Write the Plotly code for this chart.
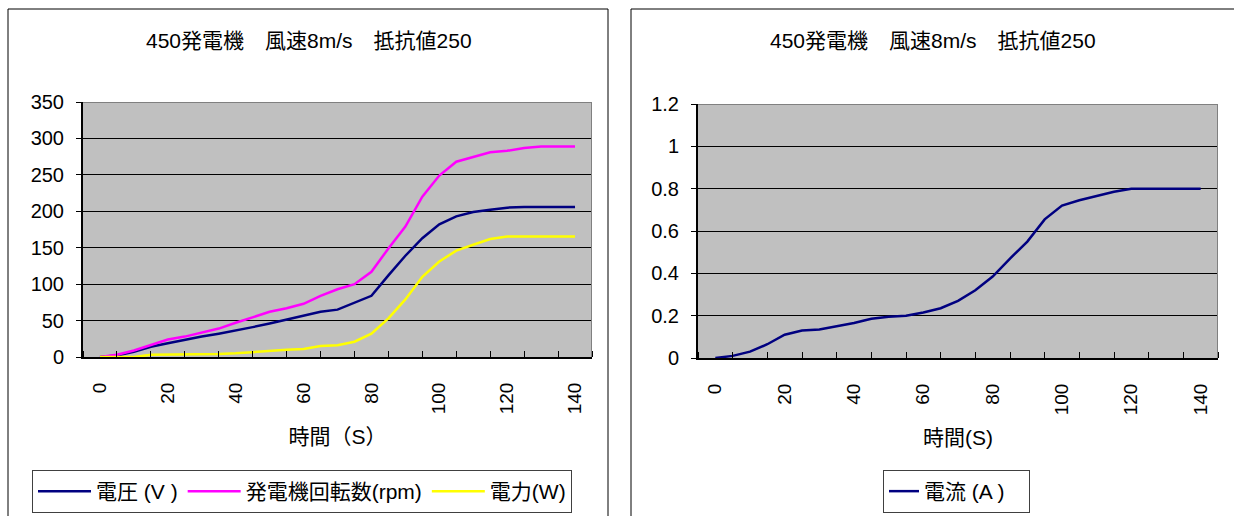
import plotly.graph_objects as go

# Measurement times (s)
time_s = [0, 5, 10, 15, 20, 25, 30, 35, 40, 45, 50, 55, 60, 65, 70,
          75, 80, 85, 90, 95, 100, 105, 110, 115, 120, 125, 130, 135, 140]

# Generator output, 450 generator, wind 8 m/s, load 250
voltage_v = [0, 2, 7, 14, 19, 24, 28, 32, 36, 41, 46, 51, 57, 62, 65,
             74, 84, 112, 139, 163, 182, 193, 199, 202, 205, 206, 206, 206, 206]
speed_rpm = [0, 3, 9, 16, 24, 28, 33, 39, 47, 54, 62, 67, 73, 84, 93,
             100, 117, 149, 179, 220, 249, 268, 275, 281, 283, 287, 289, 289, 289]
power_w = [0, 0, 0, 3, 3, 3, 3.5, 4, 5, 7, 8.5, 10, 11, 15, 16,
           21, 32, 53, 79, 110, 131, 146, 154, 162, 165.5, 165.5, 165.5, 165.5, 165.5]
current_a = [0, 0.01, 0.03, 0.065, 0.11, 0.13, 0.135, 0.15, 0.165, 0.185, 0.195, 0.2, 0.215, 0.235, 0.27,
             0.32, 0.385, 0.47, 0.55, 0.655, 0.72, 0.745, 0.765, 0.785, 0.8, 0.8, 0.8, 0.8, 0.8]

x_labels = [0, 20, 40, 60, 80, 100, 120, 140]
x_bounds = [-5, 5, 15, 25, 35, 45, 55, 65, 75, 85, 95, 105, 115, 125, 135, 145]

chart_title = "450発電機　風速8m/s　抵抗値250"

W, H = 1234, 516
FONT = "Liberation Sans, Arial, Noto Sans CJK JP, sans-serif"


def fx(px):
    return px / W


def fy(px):
    return 1 - px / H


fig = go.Figure()

fig.add_trace(go.Scatter(x=time_s, y=voltage_v, mode="lines", name="電圧 (V )",
                         line=dict(color="#000080", width=2.5), xaxis="x", yaxis="y", legend="legend"))
fig.add_trace(go.Scatter(x=time_s, y=speed_rpm, mode="lines", name="発電機回転数(rpm)",
                         line=dict(color="#FF00FF", width=2.5), xaxis="x", yaxis="y", legend="legend"))
fig.add_trace(go.Scatter(x=time_s, y=power_w, mode="lines", name="電力(W)",
                         line=dict(color="#FFFF00", width=2.5), xaxis="x", yaxis="y", legend="legend"))
fig.add_trace(go.Scatter(x=time_s, y=current_a, mode="lines", name="電流 (A )",
                         line=dict(color="#000080", width=2.5), xaxis="x2", yaxis="y2", legend="legend2"))

xaxis_common = dict(
    range=[-5, 145],
    tickmode="array",
    tickvals=x_labels,
    ticktext=[str(v) for v in x_labels],
    tickangle=-90,
    ticks="",
    ticklabelstandoff=16,
    showgrid=False,
    zeroline=False,
    showline=True,
    linecolor="black",
    linewidth=2,
    tickfont=dict(size=19, color="black", family=FONT),
    minor=dict(tickmode="array", tickvals=x_bounds, ticks="inside", ticklen=6,
               tickcolor="black", tickwidth=1, showgrid=False),
    fixedrange=True,
)

yaxis_common = dict(
    ticks="outside",
    ticklen=5,
    tickcolor="black",
    ticklabelstandoff=8,
    showgrid=True,
    gridcolor="black",
    gridwidth=1,
    zeroline=False,
    showline=True,
    linecolor="black",
    linewidth=2,
    tickfont=dict(size=20, color="black", family=FONT),
    fixedrange=True,
)

fig.update_layout(
    width=W, height=H,
    margin=dict(l=0, r=0, t=0, b=0, autoexpand=False),
    paper_bgcolor="white",
    plot_bgcolor="#C0C0C0",
    font=dict(family=FONT, color="black"),
    xaxis=dict(domain=[fx(83), fx(592)], anchor="y",
               title=dict(text="時間（S）", font=dict(size=21), standoff=16), **xaxis_common),
    yaxis=dict(domain=[fy(357), fy(102)], anchor="x", range=[0, 350], dtick=50, **yaxis_common),
    xaxis2=dict(domain=[fx(698), fx(1218)], anchor="y2",
                title=dict(text="時間(S)", font=dict(size=21), standoff=16), **xaxis_common),
    yaxis2=dict(domain=[fy(358), fy(104)], anchor="x2", range=[0, 1.2], dtick=0.2, **yaxis_common),
    legend=dict(orientation="h", x=fx(32), y=fy(513), xanchor="left", yanchor="bottom",
                bgcolor="white", bordercolor="#404040", borderwidth=1,
                font=dict(size=21, family=FONT), itemwidth=53),
    legend2=dict(orientation="h", x=fx(883), y=fy(513), xanchor="left", yanchor="bottom",
                 bgcolor="white", bordercolor="#404040", borderwidth=1,
                 font=dict(size=21, family=FONT), entrywidth=100),
    showlegend=True,
)

# Chart titles
for cx in (309, 933):
    fig.add_annotation(text=chart_title, x=fx(cx), y=fy(40), xref="paper", yref="paper",
                       xanchor="center", yanchor="middle", showarrow=False,
                       font=dict(size=21, family=FONT, color="black"))

# Plot-area frame on the top and right sides
for xa, ya, ytop in (("x", "y", 350), ("x2", "y2", 1.2)):
    fig.add_shape(type="line", xref=xa, yref=ya, x0=-5, x1=145, y0=ytop, y1=ytop,
                  line=dict(color="#808080", width=2))
    fig.add_shape(type="line", xref=xa, yref=ya, x0=145, x1=145, y0=0, y1=ytop,
                  line=dict(color="#808080", width=2))

# Chart-object borders
fig.add_shape(type="rect", xref="paper", yref="paper", x0=fx(8), x1=fx(608), y0=-0.1, y1=fy(9),
              line=dict(color="black", width=1), layer="below")
fig.add_shape(type="rect", xref="paper", yref="paper", x0=fx(631), x1=1.05, y0=-0.1, y1=fy(9),
              line=dict(color="black", width=1), layer="below")

# Page without body margin so the figure fills the window exactly
fig.write_html(
    "out.html",
    post_script="document.body.style.margin='0';document.body.style.overflow='hidden';",
)
